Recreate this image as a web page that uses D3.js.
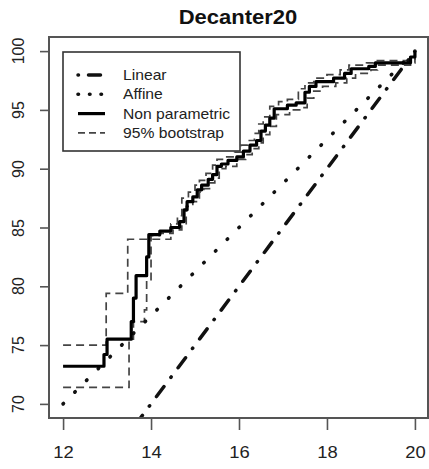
<html>
<head>
<script src="https://cdn.jsdelivr.net/npm/d3@7"></script>
<style>
    body {
        margin: 0;
        background: white;
        font-family: "Liberation Sans", Arial, Helvetica, sans-serif;
    }
    #wrap { position: relative; width: 429px; height: 469px; }
    svg { display: block; }
    .ylab {
        position: absolute;
        width: 40px;
        height: 18px;
        line-height: 18px;
        text-align: center;
        font-size: 16px;
        color: #222;
        transform: rotate(-90deg);
    }
</style>
</head>
<body>
<div id="wrap"><svg id="chart"></svg></div>
<script>
    // tick labels
    const xTicks = [12, 14, 16, 18, 20];
    const yTicks = [70, 75, 80, 85, 90, 95, 100];

    // linear fit (through the origin) and affine fit, two end points each
    const linearX = [12, 20];
    const linearY = [60, 100];
    const affineX = [12, 20];
    const affineY = [70, 100];

    // non parametric estimate (step function)
    const npX = [12, 12.93, 13.0, 13.55, 13.6, 13.66, 13.9, 13.95, 14.2, 14.45, 14.65, 14.75, 14.82, 14.95,
                 15.05, 15.15, 15.3, 15.4, 15.5, 15.6, 15.75, 15.95, 16.1, 16.25, 16.4, 16.5, 16.6, 16.7,
                 16.8, 17.1, 17.3, 17.5, 17.6, 17.75, 18.15, 18.4, 18.55, 18.95, 19.1, 19.9, 20];
    const npY = [73.2, 74.2, 75.5, 77.0, 79.0, 80.9, 82.5, 84.4, 84.7, 85.0, 85.5, 86.5, 87.2, 87.6,
                 88.2, 88.6, 89.1, 89.5, 90.2, 90.4, 90.7, 91.0, 91.5, 92.0, 92.4, 93.2, 93.7, 94.3,
                 95.1, 95.4, 95.6, 96.5, 97.0, 97.4, 97.7, 98.1, 98.5, 98.7, 99.0, 99.5, 100];

    // 95% bootstrap band, upper and lower
    const upX = [12, 12.98, 13.47, 14.45, 14.6, 14.7, 14.85, 15.0, 15.1, 15.25, 15.4, 15.5, 15.7, 15.9,
                 16.05, 16.2, 16.35, 16.45, 16.55, 16.7, 16.9, 17.1, 17.35, 17.5, 17.7, 18.0, 18.3, 18.5,
                 18.9, 19.05, 20];
    const upY = [75.0, 79.4, 84.0, 85.3, 86.0, 87.5, 88.0, 88.6, 89.0, 89.6, 90.3, 90.8, 91.0, 91.4,
                 92.0, 92.4, 93.0, 93.8, 94.4, 95.3, 95.7, 95.9, 96.8, 97.3, 97.7, 98.0, 98.4, 98.8,
                 99.0, 99.2, 100];
    const loX = [12, 13.5, 13.6, 13.85, 13.9, 14.0, 14.2, 14.5, 14.7, 14.8, 14.95, 15.1, 15.2, 15.35,
                 15.45, 15.55, 15.7, 15.95, 16.15, 16.3, 16.45, 16.55, 16.7, 16.85, 17.15, 17.4, 17.55,
                 17.7, 17.9, 18.2, 18.45, 18.65, 19.0, 19.15, 19.9, 20];
    const loY = [71.4, 75.5, 77.0, 78.0, 80.5, 84.3, 84.5, 84.8, 85.2, 86.8, 87.2, 88.0, 88.3, 88.8,
                 89.2, 90.0, 90.2, 90.8, 91.2, 91.7, 92.2, 92.9, 93.6, 94.6, 95.0, 95.2, 96.0,
                 96.6, 97.0, 97.3, 97.7, 98.1, 98.4, 98.8, 99.0, 100];

    const legendNames = ["Linear", "Affine", "Non parametric", "95% bootstrap"];

    function zip(xs, ys) {
        return xs.map((x, i) => [x, ys[i]]);
    }

    function getConfig() {
        let width = 429;
        let height = 469;
        let box = { left: 49, right: 428, top: 37, bottom: 418 };
        let svg = d3.select("#chart").attr("width", width).attr("height", height);
        return { width, height, box, svg };
    }

    function getScales(config) {
        let { box } = config;
        // R style: 4% padding around the data range
        let xScale = d3.scaleLinear().domain([11.68, 20.32]).range([box.left, box.right + 1]);
        let yScale = d3.scaleLinear().domain([68.8, 101.2]).range([box.bottom, box.top]);
        return { xScale, yScale };
    }

    function drawAxes(scales, config) {
        let { xScale, yScale } = scales;
        let { svg, box } = config;

        let axisX = d3.axisBottom(xScale).tickValues(xTicks).tickSize(12).tickPadding(17);
        let gx = svg.append("g")
            .attr("transform", `translate(0,${box.bottom})`)
            .call(axisX);
        gx.select(".domain").remove();
        gx.selectAll(".tick line").attr("stroke", "#555").attr("stroke-width", 1.6);
        gx.selectAll(".tick text")
            .attr("font-size", 16)
            .attr("font-family", "Liberation Sans, Arial, sans-serif")
            .attr("fill", "#222")
            .attr("transform", "scale(1.15,1)");

        let axisY = d3.axisLeft(yScale).tickValues(yTicks).tickSize(9).tickFormat("");
        let gy = svg.append("g")
            .attr("transform", `translate(${box.left},0)`)
            .call(axisY);
        gy.select(".domain").remove();
        gy.selectAll(".tick line").attr("stroke", "#555").attr("stroke-width", 1.6);
        gy.selectAll(".tick text").remove();

        // R draws the y labels parallel to the axis (quarter turn, reading upwards)
        d3.select("#wrap").selectAll("div.ylab")
            .data(yTicks)
            .enter().append("div")
            .attr("class", "ylab")
            .style("left", "-1px")
            .style("top", d => (yScale(d) - 9) + "px")
            .text(d => d);

        // plot frame
        svg.append("rect")
            .attr("x", box.left)
            .attr("y", box.top)
            .attr("width", box.right - box.left)
            .attr("height", box.bottom - box.top)
            .attr("fill", "none")
            .attr("stroke", "#555")
            .attr("stroke-width", 2);
    }

    function drawLines(scales, config) {
        let { xScale, yScale } = scales;
        let { svg, box } = config;

        svg.append("clipPath").attr("id", "plotClip")
            .append("rect")
            .attr("x", box.left + 1).attr("y", box.top + 1)
            .attr("width", box.right - box.left - 2).attr("height", box.bottom - box.top - 2);

        let body = svg.append("g").attr("clip-path", "url(#plotClip)");

        let straight = d3.line().x(d => xScale(d[0])).y(d => yScale(d[1]));
        let steps = d3.line().x(d => xScale(d[0])).y(d => yScale(d[1])).curve(d3.curveStepAfter);

        // bootstrap band
        [zip(upX, upY), zip(loX, loY)].forEach(band => {
            body.append("path")
                .attr("d", steps(band))
                .attr("fill", "none")
                .attr("stroke", "#444")
                .attr("stroke-width", 1.7)
                .attr("stroke-dasharray", "8,5");
        });

        // linear, dot-dash
        body.append("path")
            .attr("d", straight(zip(linearX, linearY)))
            .attr("fill", "none")
            .attr("stroke", "#111")
            .attr("stroke-width", 3.5)
            .attr("stroke-linecap", "round")
            .attr("stroke-dasharray", "0.5,11.5,12.5,11.5");

        // affine, dotted
        body.append("path")
            .attr("d", straight(zip(affineX, affineY)))
            .attr("fill", "none")
            .attr("stroke", "#111")
            .attr("stroke-width", 3.6)
            .attr("stroke-linecap", "round")
            .attr("stroke-dasharray", "0.6,16");

        // non parametric
        body.append("path")
            .attr("d", steps(zip(npX, npY)))
            .attr("fill", "none")
            .attr("stroke", "#000")
            .attr("stroke-width", 3.2)
            .attr("stroke-linejoin", "round");
    }

    function drawLegend(config) {
        let { svg } = config;
        let styles = [
            { width: 3.5, dash: "0.5,10,12,40", color: "#111", cap: "round" },
            { width: 3.6, dash: "0.5,11", color: "#111", cap: "round" },
            { width: 3.2, dash: null, color: "#000", cap: "butt" },
            { width: 1.7, dash: "7,4", color: "#444", cap: "butt" }
        ];
        let legend = svg.append("g");
        legend.append("rect")
            .attr("x", 63).attr("y", 52)
            .attr("width", 177).attr("height", 99)
            .attr("fill", "white")
            .attr("stroke", "#333")
            .attr("stroke-width", 1.6);

        let rows = legend.selectAll(".row")
            .data(legendNames)
            .enter().append("g")
            .attr("class", "row")
            .attr("transform", (d, i) => `translate(0,${75 + i * 19.3})`);

        rows.append("line")
            .attr("x1", 78).attr("x2", 105)
            .attr("y1", 0).attr("y2", 0)
            .attr("stroke", (d, i) => styles[i].color)
            .attr("stroke-width", (d, i) => styles[i].width)
            .attr("stroke-linecap", (d, i) => styles[i].cap)
            .attr("stroke-dasharray", (d, i) => styles[i].dash);

        rows.append("text")
            .attr("transform", "translate(123,5) scale(1.12,1)")
            .attr("font-size", 14)
            .attr("fill", "#222")
            .text(d => d);
    }

    function drawTitle(config) {
        config.svg.append("text")
            .attr("transform", "translate(238,24) scale(1.1,1)")
            .attr("text-anchor", "middle")
            .attr("font-size", 20)
            .attr("font-weight", "bold")
            .attr("fill", "#111")
            .text("Decanter20");
    }

    let config = getConfig();
    let scales = getScales(config);
    drawTitle(config);
    drawAxes(scales, config);
    drawLines(scales, config);
    drawLegend(config);
</script>
</body>
</html>
